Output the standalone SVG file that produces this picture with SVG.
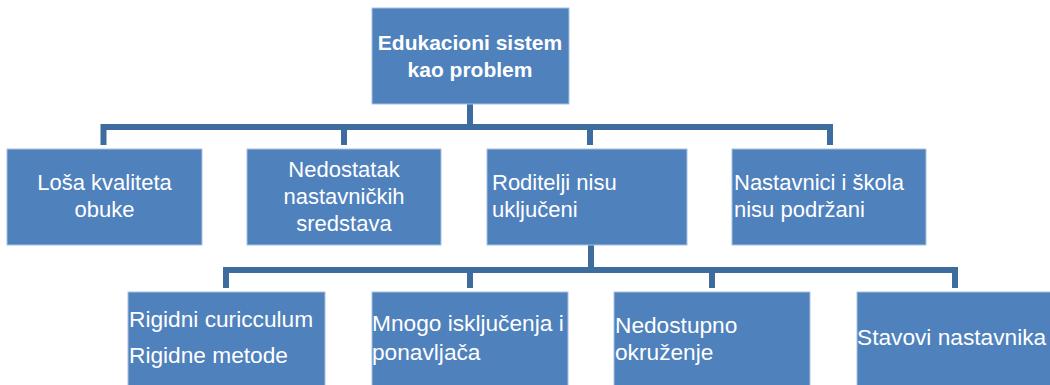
<svg xmlns="http://www.w3.org/2000/svg" width="1050" height="385" viewBox="0 0 1050 385">
<style>
.box{fill:#4F81BD;stroke:#A9C1E0;stroke-width:1}
.t{font-family:"Liberation Sans",Arial,sans-serif;font-size:22px;fill:#FFFFFF}
.s{font-size:22.7px}
.b{font-weight:bold;font-size:21px}
.c{text-anchor:middle}
.con{fill:none;stroke:#3F6C9F;stroke-width:6;stroke-linejoin:miter;stroke-linecap:butt}
</style>
<rect width="1050" height="385" fill="#FFFFFF"/>
<g id="connectors">
<path class="con" d="M470 104 V127"/>
<path class="con" d="M103.5 145 V127 H830 V145"/>
<path class="con" d="M344 127 V145"/>
<path class="con" d="M590 127 V145"/>
<path class="con" d="M591 245 V270"/>
<path class="con" d="M226 288 V270 H955 V288"/>
<path class="con" d="M470 270 V288"/>
<path class="con" d="M712 270 V288"/>
</g>
<g id="root">
<rect class="box" x="372" y="8" width="197" height="96"/>
<text class="t b c" x="470" y="50">Edukacioni sistem</text>
<text class="t b c" x="470" y="77">kao problem</text>
</g>
<g id="n1">
<rect class="box" x="7" y="149" width="195" height="96"/>
<text class="t c" x="104.5" y="190">Loša kvaliteta</text>
<text class="t c" x="104.5" y="217">obuke</text>
</g>
<g id="n2">
<rect class="box" x="247" y="149" width="194" height="96"/>
<text class="t c" x="344" y="177">Nedostatak</text>
<text class="t c" x="344" y="204">nastavničkih</text>
<text class="t c" x="344" y="231">sredstava</text>
</g>
<g id="n3">
<rect class="box" x="487" y="149" width="200" height="96"/>
<text class="t" x="492" y="190">Roditelji nisu</text>
<text class="t" x="492" y="217">uključeni</text>
</g>
<g id="n4">
<rect class="box" x="732" y="149" width="194" height="96"/>
<text class="t" x="734" y="190">Nastavnici i škola</text>
<text class="t" x="734" y="217">nisu podržani</text>
</g>
<g id="n5">
<rect class="box" x="128" y="292" width="197" height="100"/>
<text class="t s" x="129" y="327">Rigidni curicculum</text>
<text class="t s" x="129" y="363">Rigidne metode</text>
</g>
<g id="n6">
<rect class="box" x="372" y="292" width="196" height="100"/>
<text class="t s" x="372" y="331">Mnogo isključenja i</text>
<text class="t s" x="372" y="360">ponavljača</text>
</g>
<g id="n7">
<rect class="box" x="614" y="292" width="196" height="100"/>
<text class="t s" x="615" y="333">Nedostupno</text>
<text class="t s" x="615" y="360">okruženje</text>
</g>
<g id="n8">
<rect class="box" x="857" y="292" width="200" height="100"/>
<text class="t s" x="857" y="345">Stavovi nastavnika</text>
</g>
</svg>
